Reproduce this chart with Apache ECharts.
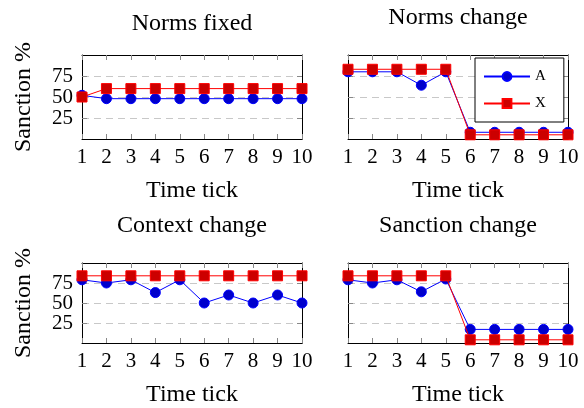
<!DOCTYPE html>
<html>
<head>
<meta charset="utf-8">
<script src="https://cdn.jsdelivr.net/npm/echarts@6/dist/echarts.min.js"></script>
<style>
html,body{margin:0;padding:0;background:#fff;}
#c{width:584px;height:408px;}
</style>
</head>
<body>
<div id="c"></div>
<script>
// ---- data ----
var ticks = [1, 2, 3, 4, 5, 6, 7, 8, 9, 10];
var yTicks = [25, 50, 75];
var panelTitles = ['Norms fixed', 'Norms change', 'Context change', 'Sanction change'];
var seriesNames = ['A', 'X'];
var normsFixedA    = [52, 48, 48, 48, 48, 48, 48, 48, 48, 48];
var normsFixedX    = [50, 60, 60, 60, 60, 60, 60, 60, 60, 60];
var normsChangeA   = [80, 80, 80, 64, 80, 8, 8, 8, 8, 8];
var normsChangeX   = [83, 83, 83, 83, 83, 5, 5, 5, 5, 5];
var contextChangeA = [79, 75, 79, 63, 79, 50, 60, 50, 60, 50];
var contextChangeX = [84, 84, 84, 84, 84, 84, 84, 84, 84, 84];
var sanctionChangeA = [79, 75, 79, 64, 80, 17, 17, 17, 17, 17];
var sanctionChangeX = [84, 84, 84, 84, 84, 4, 4, 4, 4, 4];
var xLabel = 'Time tick';
var yLabel = 'Sanction %';

// ---- layout / style ----
var FONT = 'Liberation Serif';
var panels = [
  {A: normsFixedA, X: normsFixedX, left: 82, top: 55, titleTop: 12, ylab: true},
  {A: normsChangeA, X: normsChangeX, left: 348, top: 55, titleTop: 6, ylab: false},
  {A: contextChangeA, X: contextChangeX, left: 82, top: 263, titleTop: 214, ylab: true},
  {A: sanctionChangeA, X: sanctionChangeX, left: 348, top: 263, titleTop: 214, ylab: false}
];
var W = 220, H = 84;

function pairs(arr) { return ticks.map(function (t, i) { return [t, arr[i]]; }); }

var grids = [], xAxes = [], yAxes = [], series = [], titles = [];
var tickStyle = {show: true, inside: true, length: 5, lineStyle: {color: '#888', width: 1}};
var lineStyleAxis = {show: true, onZero: false, lineStyle: {color: '#000', width: 1}};

panels.forEach(function (p, i) {
  grids.push({left: p.left, top: p.top, width: W, height: H, containLabel: false});
  titles.push({
    text: panelTitles[i], left: p.left + W / 2, top: p.titleTop, textAlign: 'center', padding: 0,
    textStyle: {fontFamily: FONT, fontSize: 24, fontWeight: 'normal', color: '#000'}
  });
  xAxes.push({
    gridIndex: i, type: 'value', min: 1, max: 10, interval: 1, position: 'bottom', z: 2,
    axisLine: lineStyleAxis, axisTick: tickStyle,
    axisLabel: {margin: 8, fontFamily: FONT, fontSize: 21, color: '#000'},
    splitLine: {show: false},
    name: xLabel, nameLocation: 'middle', nameGap: 40,
    nameTextStyle: {fontFamily: FONT, fontSize: 24, color: '#000'}
  });
  xAxes.push({
    gridIndex: i, type: 'value', min: 1, max: 10, interval: 1, position: 'top', z: 2,
    axisLine: lineStyleAxis, axisTick: tickStyle, axisLabel: {show: false}, splitLine: {show: false}
  });
  var yl = {
    gridIndex: i, type: 'value', min: 0, max: 100, interval: 25, position: 'left', z: 1,
    axisLine: lineStyleAxis, axisTick: tickStyle,
    axisLabel: {show: p.ylab, margin: 9, fontFamily: FONT, fontSize: 21, color: '#000',
      formatter: function (v) { return yTicks.indexOf(v) >= 0 ? String(v) : ''; }},
    splitLine: {show: true, showMinLine: false, showMaxLine: false, lineStyle: {color: '#c8c8c8', width: 1, type: [7, 5]}}
  };
  if (p.ylab) {
    yl.name = yLabel; yl.nameLocation = 'middle'; yl.nameGap = 46; yl.nameRotate = 90;
    yl.nameTextStyle = {fontFamily: FONT, fontSize: 24, color: '#000'};
  }
  yAxes.push(yl);
  yAxes.push({
    gridIndex: i, type: 'value', min: 0, max: 100, interval: 25, position: 'right', z: 1,
    axisLine: lineStyleAxis, axisTick: tickStyle,
    axisLabel: {show: false}, splitLine: {show: false}
  });
  series.push({
    name: seriesNames[0], type: 'line', xAxisIndex: 2 * i, yAxisIndex: 2 * i, data: pairs(p.A),
    symbol: 'circle', symbolSize: 10, clip: false, z: 3,
    lineStyle: {color: '#0000ff', width: 1},
    itemStyle: {color: '#0000cc', borderColor: '#0000ff', borderWidth: 1}
  });
  series.push({
    name: seriesNames[1], type: 'line', xAxisIndex: 2 * i, yAxisIndex: 2 * i, data: pairs(p.X),
    symbol: 'rect', symbolSize: 10, clip: false, z: 4,
    lineStyle: {color: '#ff0000', width: 1},
    itemStyle: {color: '#cc0000', borderColor: '#ff0000', borderWidth: 1}
  });
});

var chart = echarts.init(document.getElementById('c'), null, {renderer: 'canvas'});
chart.setOption({
  animation: false,
  backgroundColor: '#fff',
  title: titles,
  grid: grids,
  xAxis: xAxes,
  yAxis: yAxes,
  legend: {
    data: seriesNames, orient: 'vertical', left: 475, top: 58,
    padding: [11, 18, 11, 8], itemWidth: 46, itemHeight: 11, itemGap: 12,
    borderColor: '#000', borderWidth: 1, borderRadius: 0, backgroundColor: '#fff',
    selectedMode: false, z: 10,
    textStyle: {fontFamily: FONT, fontSize: 15, color: '#000'}
  },
  series: series
});
</script>
</body>
</html>
